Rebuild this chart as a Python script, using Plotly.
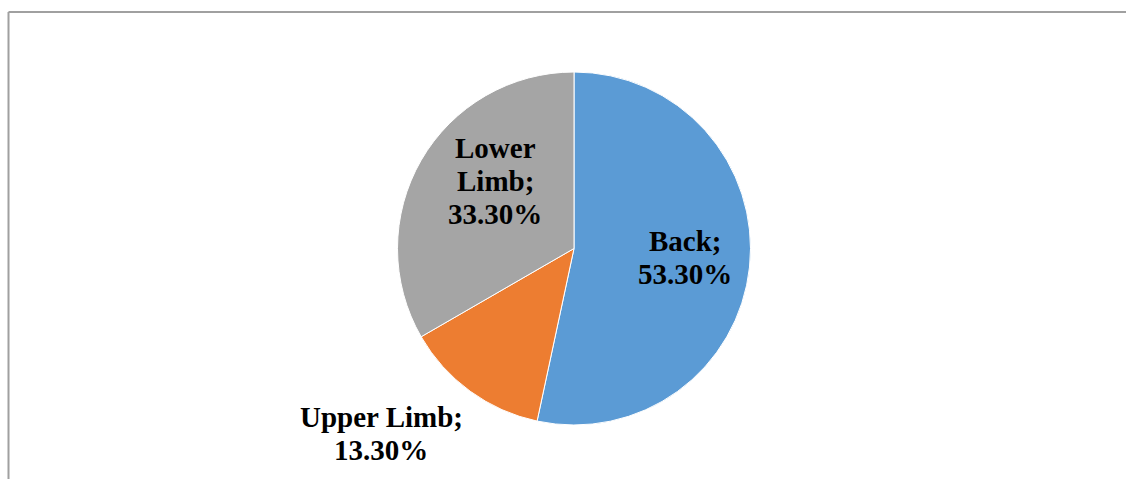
import plotly.graph_objects as go

W, H = 1126, 479

categories = ["Back", "Upper Limb", "Lower Limb"]
shares = [53.3, 13.3, 33.3]
colors = ["#5B9BD5", "#ED7D31", "#A5A5A5"]
name_lines = [["Back;"], ["Upper Limb;"], ["Lower", "Limb;"]]
# label block anchor: centre x and first-line centre y (pixels from top-left)
label_px = [(685, 241), (381, 417), (495, 148)]
LINE_PITCH = 33
FONT_SIZE = 29

fig = go.Figure(
    go.Pie(
        labels=categories,
        values=shares,
        textinfo="none",
        sort=False,
        direction="clockwise",
        rotation=0,
        marker=dict(colors=colors, line=dict(color="white", width=1)),
        showlegend=False,
        hoverinfo="label+percent",
        domain=dict(x=[397 / W, 751 / W], y=[(H - 425) / H, (H - 72) / H]),
    )
)

# data labels: category name and share, one annotation per line for tight spacing
for lines, v, (px, py) in zip(name_lines, shares, label_px):
    for i, line in enumerate(lines + [f"{v:.2f}%"]):
        fig.add_annotation(
            x=px / W, y=1 - (py + i * LINE_PITCH) / H, xref="paper", yref="paper",
            xanchor="center", yanchor="middle", align="center",
            text=line, showarrow=False,
            font=dict(family="Liberation Serif", size=FONT_SIZE, color="black", weight="bold"),
        )

# chart-area frame (top and left edges)
frame = dict(color="#A0A0A0", width=2)
fig.add_shape(type="line", xref="paper", yref="paper",
              x0=8.5 / W, y0=1 - 12 / H, x1=1, y1=1 - 12 / H, line=frame)
fig.add_shape(type="line", xref="paper", yref="paper",
              x0=8.5 / W, y0=1 - 12 / H, x1=8.5 / W, y1=0, line=frame)

fig.update_layout(
    width=W,
    height=H,
    margin=dict(l=0, r=0, t=0, b=0),
    paper_bgcolor="white",
    plot_bgcolor="white",
)

fig.write_html("out.html")
